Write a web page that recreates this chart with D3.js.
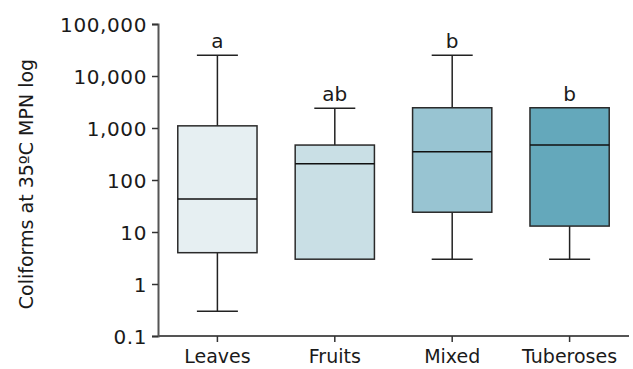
<!DOCTYPE html>
<html>
<head>
<meta charset="utf-8">
<script src="https://cdn.jsdelivr.net/npm/d3@7"></script>
<style>
  body { margin: 0; background: #fff; }
  svg text { font-family: "DejaVu Sans", sans-serif; fill: #1a1a1a; }
</style>
</head>
<body>
<div id="chart"></div>
<script>
// data
const categories = ["Leaves", "Fruits", "Mixed", "Tuberoses"];
const whiskerLow = [0.3, 3, 3, 3];
const q1 = [4, 3, 24, 13];
const median = [43, 205, 350, 470];
const q3 = [1100, 470, 2450, 2450];
const whiskerHigh = [25000, 2400, 25000, 2450];
const letters = ["a", "ab", "b", "b"];
const fills = ["#e6eff2", "#c9dfe5", "#98c4d2", "#64a8bb"];
const yTicks = [0.1, 1, 10, 100, 1000, 10000, 100000];

const width = 633, height = 369;
const margins = {top: 24, right: 5, bottom: 33, left: 158};

const svg = d3.select("#chart").append("svg").attr("width", width).attr("height", height);

const xScale = d3.scaleBand()
  .domain(categories)
  .range([margins.left + 1, width - margins.right])
  .paddingInner(0.325)
  .paddingOuter(0.16);
const yScale = d3.scaleLog()
  .domain([0.1, 100000])
  .range([height - margins.bottom, margins.top]);

const fmt = d3.format(",");

const xAxis = d3.axisBottom(xScale).tickSize(6).tickPadding(6);
const yAxis = d3.axisLeft(yScale).tickValues(yTicks)
  .tickFormat(d => d < 1 ? "0.1" : fmt(d)).tickSize(6).tickPadding(5);

const gx = svg.append("g")
  .attr("transform", "translate(0," + (height - margins.bottom) + ")")
  .call(xAxis);
gx.select(".domain").attr("d", "M" + margins.left + ",0H" + (width - 4));
const gy = svg.append("g")
  .attr("transform", "translate(" + margins.left + ",0)")
  .call(yAxis);
svg.selectAll(".domain").attr("stroke", "#555").attr("stroke-width", 2);
svg.selectAll(".tick line").attr("stroke", "#333").attr("stroke-width", 1.5);
gx.selectAll("text").style("font-size", "19px").attr("dy", "0.78em");
gy.selectAll("text").style("font-size", "20px").style("letter-spacing", "0.6px").attr("dy", "0.36em");

const idx = d3.range(categories.length);
const bw = xScale.bandwidth();
const cx = i => xScale(categories[i]) + bw / 2;
const capW = 41;

const g = svg.append("g");
// whiskers
g.selectAll("line.whisk").data(idx).enter().append("line")
  .attr("class", "whisk")
  .attr("x1", cx).attr("x2", cx)
  .attr("y1", i => yScale(whiskerLow[i])).attr("y2", i => yScale(whiskerHigh[i]))
  .attr("stroke", "#222").attr("stroke-width", 1.5);
g.selectAll("line.capLow").data(idx.filter(i => whiskerLow[i] < q1[i])).enter().append("line")
  .attr("x1", i => cx(i) - capW / 2).attr("x2", i => cx(i) + capW / 2)
  .attr("y1", i => yScale(whiskerLow[i])).attr("y2", i => yScale(whiskerLow[i]))
  .attr("stroke", "#222").attr("stroke-width", 1.5);
g.selectAll("line.capHigh").data(idx.filter(i => whiskerHigh[i] > q3[i])).enter().append("line")
  .attr("x1", i => cx(i) - capW / 2).attr("x2", i => cx(i) + capW / 2)
  .attr("y1", i => yScale(whiskerHigh[i])).attr("y2", i => yScale(whiskerHigh[i]))
  .attr("stroke", "#222").attr("stroke-width", 1.5);

// boxes
g.selectAll("rect").data(idx).enter().append("rect")
  .attr("x", i => xScale(categories[i]))
  .attr("y", i => yScale(q3[i]))
  .attr("width", bw)
  .attr("height", i => yScale(q1[i]) - yScale(q3[i]))
  .attr("fill", i => fills[i])
  .attr("stroke", "#2a2a2a").attr("stroke-width", 1.5);
g.selectAll("line.med").data(idx).enter().append("line")
  .attr("x1", i => xScale(categories[i])).attr("x2", i => xScale(categories[i]) + bw)
  .attr("y1", i => yScale(median[i])).attr("y2", i => yScale(median[i]))
  .attr("stroke", "#111").attr("stroke-width", 1.5);

// letters
g.selectAll("text.letter").data(idx).enter().append("text")
  .attr("x", cx)
  .attr("y", i => yScale(whiskerHigh[i]) - 7)
  .attr("text-anchor", "middle")
  .style("font-size", "20px")
  .text(i => letters[i]);

svg.append("text")
  .attr("transform", "translate(33," + 184 + ") rotate(-90)")
  .attr("text-anchor", "middle")
  .style("font-size", "19px")
  .text("Coliforms at 35ºC MPN log");
</script>
</body>
</html>
